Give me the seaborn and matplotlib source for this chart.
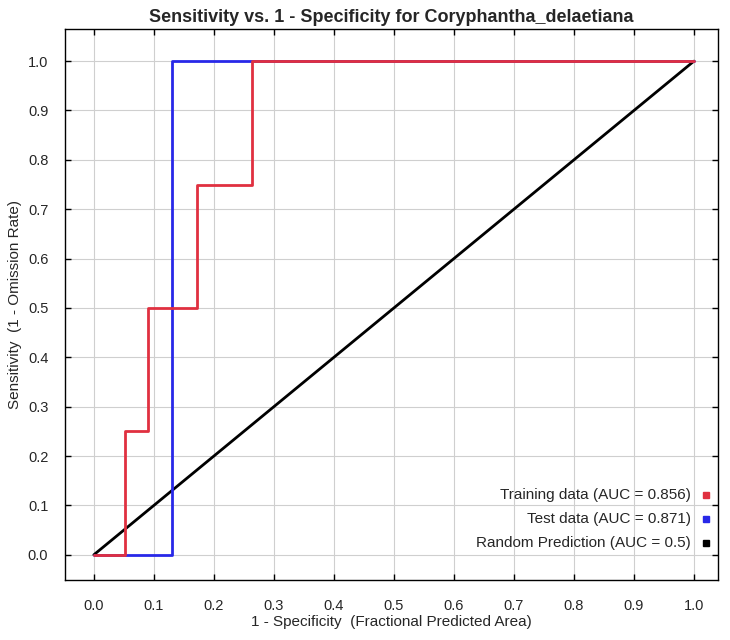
import matplotlib
matplotlib.use("Agg")
import matplotlib.pyplot as plt
import seaborn as sns
import numpy as np

train_fpr = [0.0, 0.052, 0.090, 0.172, 0.263, 1.0]
train_tpr = [0.0, 0.25, 0.50, 0.75, 1.0, 1.0]
test_fpr = [0.0, 0.130, 1.0]
test_tpr = [0.0, 1.0, 1.0]
rand_x = [0.0, 1.0]
rand_y = [0.0, 1.0]
legend_labels = ["Training data (AUC = 0.856)", "Test data (AUC = 0.871)", "Random Prediction (AUC = 0.5)"]
ticks = [0.0, 0.1, 0.2, 0.3, 0.4, 0.5, 0.6, 0.7, 0.8, 0.9, 1.0]

sns.set_theme(style="white")
plt.rcParams['font.family'] = ['Liberation Sans', 'DejaVu Sans']

RED = "#e03040"
BLUE = "#2828e8"
BLACK = "#000000"

fig = plt.figure(figsize=(7.3, 6.4), dpi=100)
ax = fig.add_axes([65/730, 1-580/640, (718-65)/730, (580-29)/640])

sns.lineplot(x=rand_x, y=rand_y, ax=ax, color=BLACK, linewidth=2.0, sort=False)
sns.lineplot(x=test_fpr, y=test_tpr, ax=ax, color=BLUE, linewidth=2.0, drawstyle='steps-post', sort=False)
sns.lineplot(x=train_fpr, y=train_tpr, ax=ax, color=RED, linewidth=2.0, drawstyle='steps-post', sort=False)

ax.set_xlim(-0.048, 1.04)
ax.set_ylim(-0.051, 1.065)
ax.set_xticks(ticks)
ax.set_yticks(ticks)
ax.set_xticklabels([f"{t:.1f}" for t in ticks])
ax.set_yticklabels([f"{t:.1f}" for t in ticks])
ax.grid(True, color="#cfcfcf", linewidth=0.8)
ax.tick_params(direction='in', length=4, width=1, color='black', top=True, right=True,
               bottom=True, left=True, labelsize=10.5)
ax.tick_params(axis='x', pad=14)
ax.tick_params(axis='y', pad=12)
for s in ax.spines.values():
    s.set_color('black')
    s.set_linewidth(1.0)

ax.set_title("Sensitivity vs. 1 - Specificity for Coryphantha_delaetiana",
             fontsize=13, fontweight='bold', pad=5)
ax.set_xlabel("1 - Specificity  (Fractional Predicted Area)", fontsize=11, labelpad=1)
ax.set_ylabel("Sensitivity  (1 - Omission Rate)", fontsize=11, labelpad=4)

ys = [0.154, 0.111, 0.067]
cols = [RED, BLUE, BLACK]
for lab, yy, c in zip(legend_labels, ys, cols):
    ax.text(0.958, yy, lab, transform=ax.transAxes, ha='right', va='center', fontsize=11)
    ax.plot([0.981], [yy], marker='s', markersize=4.5, color=c, transform=ax.transAxes, linestyle='none')

fig.savefig("out.png", dpi=100)
